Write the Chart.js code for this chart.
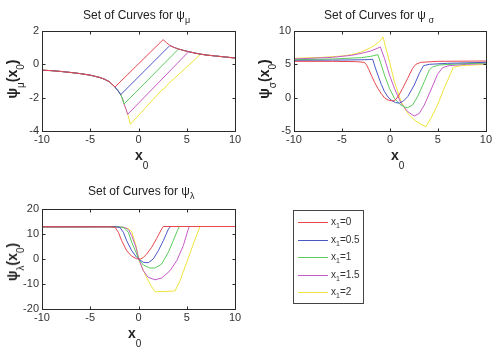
<!DOCTYPE html>
<html>
<head>
<meta charset="utf-8">
<script src="https://cdn.jsdelivr.net/npm/chart.js@4.4.0/dist/chart.umd.min.js"></script>
<style>
  html, body { margin: 0; padding: 0; background: #fff; }
  body { width: 494px; height: 350px; position: relative; overflow: hidden;
         font-family: "Liberation Sans", Arial, Helvetica, sans-serif; color: #222; }
  canvas { position: absolute; }
  .title { position: absolute; font-size: 12px; line-height: 12px; white-space: nowrap; color: #222; }
  .title sub { font-size: 9px; vertical-align: -4px; line-height: 0; }
  .xl { position: absolute; font-size: 14px; line-height: 14px; font-weight: bold; white-space: nowrap; color: #222; }
  .xl sub { font-size: 10px; vertical-align: -9px; line-height: 0; font-weight: normal; }
  .yl { position: absolute; font-size: 14px; line-height: 14px; font-weight: bold; white-space: nowrap; color: #222;
        transform: translate(-50%, -50%) rotate(-90deg); }
  .yl sub { font-size: 10px; vertical-align: -7px; line-height: 0; font-weight: normal; }
  #legend { position: absolute; left: 293px; top: 210px; width: 69px; height: 92px; border: 1px solid #444; background: #fff; }
  .li { position: absolute; left: 0; height: 14px; width: 69px; }
  .li .ln { position: absolute; left: 4px; top: 6px; width: 30px; height: 0; border-top: 1px solid; }
  .li .tx { position: absolute; left: 37px; top: 0; font-size: 10px; line-height: 12px; color: #333; white-space: nowrap; }
  .li .tx sub { font-size: 7px; vertical-align: -3px; line-height: 0; }
</style>
</head>
<body>
<canvas id="c1" width="244" height="150" style="left:0px;top:0px;width:244px;height:150px"></canvas>
<canvas id="c2" width="242" height="150" style="left:252px;top:0px;width:242px;height:150px"></canvas>
<canvas id="c3" width="244" height="150" style="left:0px;top:178px;width:244px;height:150px"></canvas>

<div class="title" style="left:83px;top:9px">Set of Curves for ψ<sub>μ</sub></div>
<div class="title" style="left:324px;top:9px">Set of Curves for ψ<sub>&nbsp;σ</sub></div>
<div class="title" style="left:88px;top:185px">Set of Curves for ψ<sub>λ</sub></div>

<div class="xl" style="left:135px;top:148px">x<sub>0</sub></div>
<div class="xl" style="left:391px;top:148px">x<sub>0</sub></div>
<div class="xl" style="left:128px;top:326px">x<sub>0</sub></div>

<div class="yl" style="left:13px;top:79px">ψ<sub>μ</sub>(x<sub>0</sub>)</div>
<div class="yl" style="left:265px;top:79px">ψ<sub>σ</sub>(x<sub>0</sub>)</div>
<div class="yl" style="left:13px;top:262px">ψ<sub>λ</sub>(x<sub>0</sub>)</div>

<div id="legend"></div>

<script>
// ---- series labels and colours ----
const x1Values = ['0', '0.5', '1', '1.5', '2'];
const seriesColors = ['#e8474d', '#4a58c6', '#5ccc5c', '#c65ac9', '#eee43a'];

// ---- tick labels ----
const xTicks = [-10, -5, 0, 5, 10];
const muTicks = [-4, -2, 0, 2];
const sigmaTicks = [-5, 0, 5, 10];
const lambdaTicks = [-20, -10, 0, 10, 20];

// ---- psi_mu curves : [x0, value] ----
const psiMu0 = [[-10,-0.35],[-9,-0.38],[-8,-0.43],[-7,-0.49],[-6,-0.56],[-5,-0.65],[-4,-0.79],[-3.5,-0.9],[-3,-1.05],[-2.44,-1.36],
  [2.55,1.48],[2.9,1.3],[3.25,1.13],[3.7,1.01],[4.15,0.92],[4.7,0.83],[5.2,0.76],[5.8,0.68],[6.45,0.61],[7,0.56],[8,0.5],[9,0.44],[10,0.38]];
const psiMu05 = [[-10,-0.35],[-9,-0.38],[-8,-0.43],[-7,-0.49],[-6,-0.56],[-5,-0.65],[-4,-0.79],[-3.5,-0.9],[-3,-1.05],[-2.44,-1.36],[-2.1,-1.6],[-1.84,-1.82],
  [3.25,1.13],[3.7,1.01],[4.15,0.92],[4.7,0.83],[5.2,0.76],[5.8,0.68],[6.45,0.61],[7,0.56],[8,0.5],[9,0.44],[10,0.38]];
const psiMu1 = [[-10,-0.35],[-9,-0.38],[-8,-0.43],[-7,-0.49],[-6,-0.56],[-5,-0.65],[-4,-0.79],[-3.5,-0.9],[-3,-1.05],[-2.44,-1.36],[-2.1,-1.6],[-1.84,-1.82],[-1.65,-2.08],[-1.5,-2.38],
  [4.15,0.92],[4.7,0.83],[5.2,0.76],[5.8,0.68],[6.45,0.61],[7,0.56],[8,0.5],[9,0.44],[10,0.38]];
const psiMu15 = [[-10,-0.35],[-9,-0.38],[-8,-0.43],[-7,-0.49],[-6,-0.56],[-5,-0.65],[-4,-0.79],[-3.5,-0.9],[-3,-1.05],[-2.44,-1.36],[-2.1,-1.6],[-1.84,-1.82],[-1.65,-2.08],[-1.5,-2.38],[-1.3,-2.68],[-1.12,-3.0],
  [5.2,0.76],[5.8,0.68],[6.45,0.61],[7,0.56],[8,0.5],[9,0.44],[10,0.38]];
const psiMu2 = [[-10,-0.35],[-9,-0.38],[-8,-0.43],[-7,-0.49],[-6,-0.56],[-5,-0.65],[-4,-0.79],[-3.5,-0.9],[-3,-1.05],[-2.44,-1.36],[-2.1,-1.6],[-1.84,-1.82],[-1.65,-2.08],[-1.5,-2.38],[-1.3,-2.68],[-1.12,-3.0],[-0.97,-3.3],[-0.85,-3.6],
  [2.4,-1.55],[2.7,-1.44],[3.0,-1.22],[6.45,0.61],[7,0.56],[8,0.5],[9,0.44],[10,0.38]];

// ---- psi_sigma curves ----
const psiSigma0 = [[-10,5.45],[-6,5.45],[-3.5,5.4],[-2.7,5.3],[-2.47,5.0],[-2.2,4.2],[-1.95,3.4],[-1.6,2.3],[-1.26,1.4],[-0.9,0.6],[-0.55,-0.05],[-0.2,-0.35],[0.3,-0.5],[0.6,-0.3],[0.9,0.3],
  [1.33,1.4],[1.85,2.9],[2.36,4.4],[2.7,5.0],[3.2,5.3],[5,5.45],[10,5.5]];
const psiSigma05 = [[-10,5.6],[-6,5.63],[-3,5.68],[-2.1,5.72],[-1.8,5.78],[-1.55,4.6],[-1.26,3.4],[-0.9,2.0],[-0.57,0.9],[-0.2,0.1],[0.2,-0.45],[0.6,-0.75],[1.0,-0.8],[1.4,-0.5],
  [1.85,0.15],[2.54,1.9],[3.06,3.65],[3.5,4.8],[4.1,5.0],[6,5.15],[10,5.3]];
const psiSigma1 = [[-10,5.7],[-6,5.8],[-3,6.0],[-2,6.2],[-1.25,6.45],[-0.9,4.9],[-0.57,3.4],[-0.05,1.4],[0.47,-0.1],[1.0,-0.95],[1.5,-1.4],[1.85,-1.5],[2.36,-1.1],
  [2.88,0.15],[3.58,2.4],[4.1,4.15],[4.44,4.6],[5.13,4.9],[7,5.05],[10,5.2]];
const psiSigma15 = [[-10,5.8],[-6,6.05],[-4,6.35],[-3,6.65],[-2,7.0],[-1.0,7.6],[-0.57,5.9],[-0.05,3.4],[0.47,1.4],[1.16,-0.85],[1.85,-2.1],[2.54,-2.75],[3.06,-2.35],
  [3.58,-1.1],[4.27,1.15],[4.96,3.5],[5.48,4.5],[6.17,4.8],[8,5.0],[10,5.1]];
const psiSigma2 = [[-10,5.9],[-7,6.05],[-5,6.25],[-4,6.45],[-3,6.85],[-2.2,7.35],[-1.6,7.85],[-1.1,8.4],[-0.72,9.1],[-0.4,7.3],[-0.05,5.4],[0.47,2.4],[1.16,-0.6],[1.85,-2.35],
  [2.54,-3.35],[3.23,-4.0],[3.75,-4.35],[4.27,-3.1],[4.96,-1.1],[5.65,1.4],[6.34,3.65],[6.6,4.55],[7.4,4.8],[10,5.0]];

// ---- psi_lambda curves ----
const psiLambda0 = [[-10,12.9],[-3,12.9],[-2.44,12.7],[-2.09,10.7],[-1.74,7.3],[-1.22,3.3],[-0.7,1.1],[-0.19,0.1],[0.2,0],[0.5,0.6],[0.85,2],[1.37,4.7],[1.89,8.3],[2.4,12],[2.57,13.0],[10,13.0]];
const psiLambda05 = [[-10,12.9],[-3,12.9],[-2.2,12.85],[-1.92,12.6],[-1.57,10.7],[-1.22,7.3],[-0.7,3.3],[-0.19,0.7],[0,0],[0.5,-1.3],[1.0,-1.5],[1.53,0],[2.05,3.3],[2.57,7.3],[3.1,12],[3.33,13.0],[10,13.0]];
const psiLambda1 = [[-10,12.85],[-3,12.9],[-2,12.85],[-1.6,12.6],[-1.4,12.2],[-1.06,10.7],[-0.7,6.7],[-0.26,2.7],[0,0],[0.5,-2.4],[1.19,-3.6],[1.71,-3.6],[2.4,-2],[3.09,2.7],[3.6,7.3],[4.02,11.3],[4.23,13.0],[10,13.0]];
const psiLambda15 = [[-10,12.8],[-3,12.85],[-1.6,12.75],[-1.2,12.2],[-1.0,11.5],[-0.7,9.3],[-0.26,4.7],[0.03,0],[0.5,-4.7],[1.0,-7.3],[1.71,-8.3],[2.4,-7.6],[3.26,-4.7],[3.96,-0.7],[4.64,5.3],[5.06,10.7],[5.26,13.0],[10,13.0]];
const psiLambda2 = [[-10,12.7],[-3,12.8],[-1.5,12.6],[-1.0,12.0],[-0.7,10.9],[-0.26,5.3],[0.05,-0.5],[0.67,-6],[1.19,-10],[1.71,-13.1],[3.78,-12.8],[4.3,-8.7],[5.0,-1.3],[5.68,6],[6.37,13.0],[10,13.0]];

const FONT = '"Liberation Sans", Arial, Helvetica, sans-serif';

const boxPlugin = {
  id: 'matlabBox',
  afterDraw(chart) {
    const { ctx, chartArea: a, scales } = chart;
    ctx.save();
    ctx.strokeStyle = '#2a2a2a';
    ctx.lineWidth = 1;
    const L = Math.round(a.left) + 0.5, R = Math.round(a.right) + 0.5;
    const T = Math.round(a.top) + 0.5, B = Math.round(a.bottom) + 0.5;
    ctx.strokeRect(L, T, R - L, B - T);
    ctx.beginPath();
    scales.x.ticks.forEach(t => {
      const p = Math.round(scales.x.getPixelForValue(t.value)) + 0.5;
      ctx.moveTo(p, B); ctx.lineTo(p, B - 3);
      ctx.moveTo(p, T); ctx.lineTo(p, T + 3);
    });
    scales.y.ticks.forEach(t => {
      const p = Math.round(scales.y.getPixelForValue(t.value)) + 0.5;
      ctx.moveTo(L, p); ctx.lineTo(L + 3, p);
      ctx.moveTo(R, p); ctx.lineTo(R - 3, p);
    });
    ctx.stroke();
    ctx.restore();
  }
};

function makeChart(id, seriesList, yTicks, rightPad) {
  const datasets = seriesList.map((s, i) => ({
    label: 'x1=' + x1Values[i],
    data: s.map(p => ({ x: p[0], y: p[1] })),
    showLine: true,
    borderColor: seriesColors[i],
    backgroundColor: seriesColors[i],
    borderWidth: 1,
    pointRadius: 0,
    tension: 0,
    fill: false
  }));
  const tickFont = { family: FONT, size: 11 };
  return new Chart(document.getElementById(id), {
    type: 'scatter',
    data: { datasets },
    options: {
      responsive: false,
      animation: false,
      devicePixelRatio: 1,
      layout: { padding: { top: 31, right: rightPad, left: 0, bottom: 0 } },
      plugins: { legend: { display: false }, tooltip: { enabled: false }, title: { display: false } },
      scales: {
        x: {
          type: 'linear', min: xTicks[0], max: xTicks[xTicks.length - 1],
          afterBuildTicks: s => { s.ticks = xTicks.map(v => ({ value: v })); },
          ticks: { font: tickFont, color: '#333', padding: 2, maxRotation: 0, autoSkip: false },
          grid: { display: false, drawTicks: false },
          border: { display: false },
          afterFit: s => { s.height = 19; }
        },
        y: {
          type: 'linear', min: yTicks[0], max: yTicks[yTicks.length - 1],
          afterBuildTicks: s => { s.ticks = yTicks.map(v => ({ value: v })); },
          ticks: { font: tickFont, color: '#333', padding: 3, autoSkip: false },
          grid: { display: false, drawTicks: false },
          border: { display: false },
          afterFit: s => { s.width = 42; }
        }
      }
    },
    plugins: [boxPlugin]
  });
}

makeChart('c1', [psiMu0, psiMu05, psiMu1, psiMu15, psiMu2], muTicks, 9);
makeChart('c2', [psiSigma0, psiSigma05, psiSigma1, psiSigma15, psiSigma2], sigmaTicks, 7);
makeChart('c3', [psiLambda0, psiLambda05, psiLambda1, psiLambda15, psiLambda2], lambdaTicks, 9);

// ---- legend ----
const legendEl = document.getElementById('legend');
x1Values.forEach((v, i) => {
  const row = document.createElement('div');
  row.className = 'li';
  row.style.top = (5 + i * 17.6) + 'px';
  row.innerHTML = '<div class="ln" style="border-color:' + seriesColors[i] + '"></div>' +
                  '<div class="tx">x<sub>1</sub>=' + v + '</div>';
  legendEl.appendChild(row);
});
</script>
</body>
</html>
